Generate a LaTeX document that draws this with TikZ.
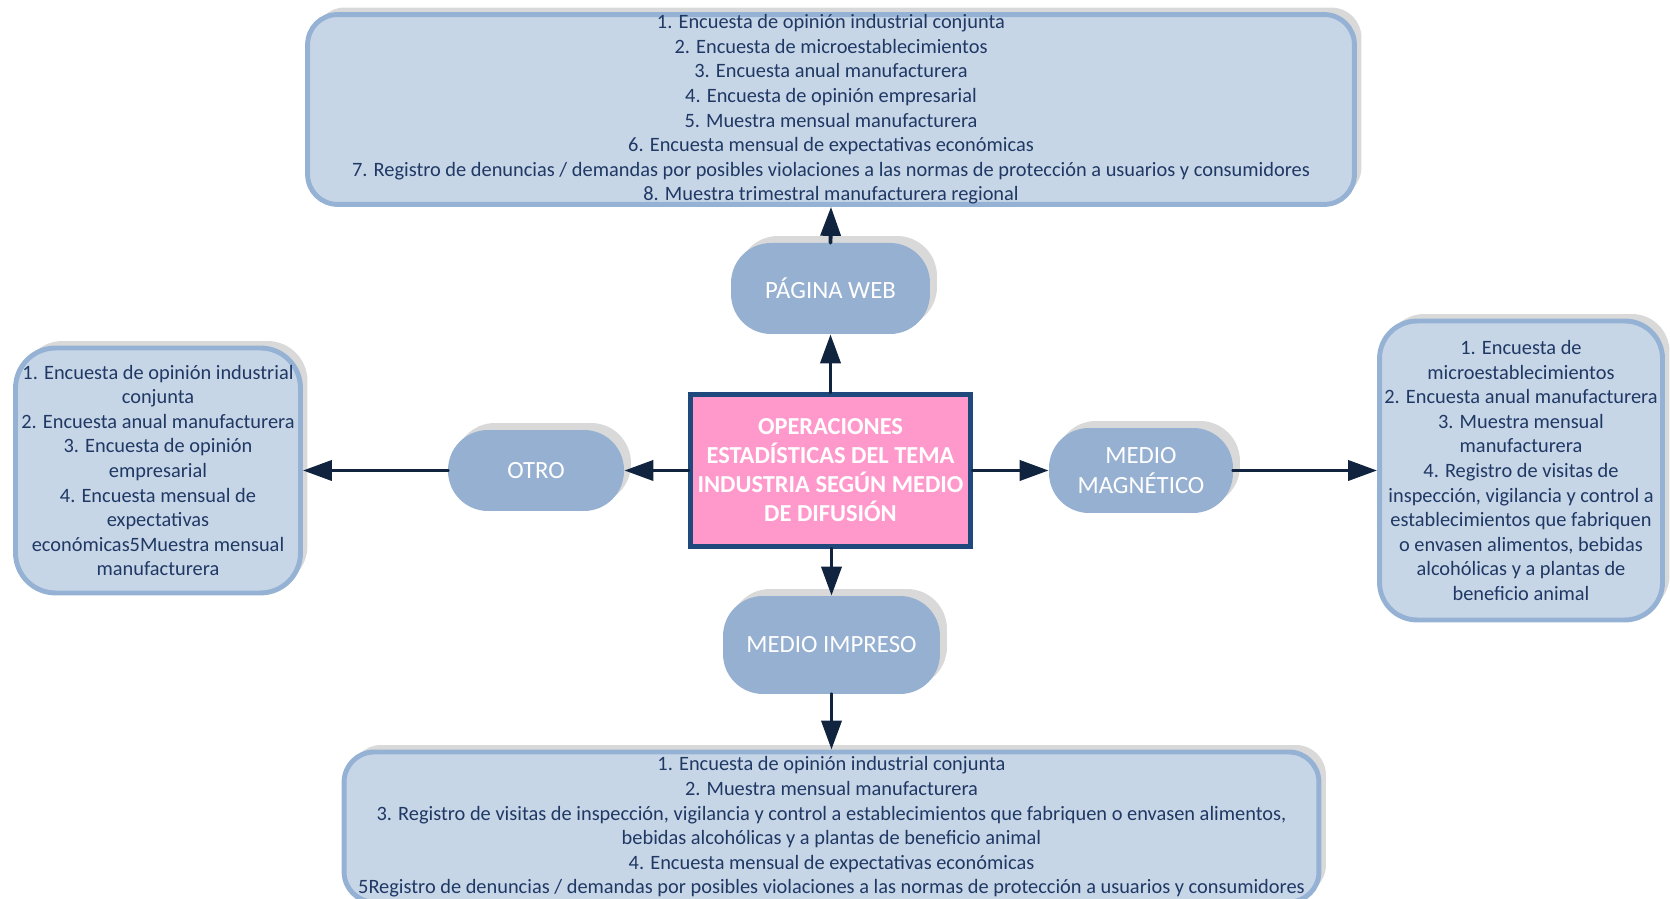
\documentclass[tikz,border=0pt]{standalone}
\usepackage{fontspec}
\setmainfont{Carlito}
\usetikzlibrary{shadows,arrows.meta}
\definecolor{listfondo}{RGB}{199,214,231}
\definecolor{listborde}{RGB}{149,178,213}
\definecolor{mediofondo}{RGB}{150,176,209}
\definecolor{grissombra}{RGB}{217,217,217}
\definecolor{textoazul}{RGB}{31,56,100}
\definecolor{flechaazul}{RGB}{16,36,63}
\definecolor{rosa}{RGB}{255,153,204}
\definecolor{centroborde}{RGB}{31,73,125}
\begin{document}
\begin{tikzpicture} [x=0.02cm,y=0.02cm,
  sombra/.style={drop shadow={shadow xshift=0.14cm, shadow yshift=0.14cm, fill=grissombra, opacity=1}},
  lista/.style={sombra, draw=listborde, line width=2.8pt, fill=listfondo, text=textoazul, align=center, inner sep=0pt, font=\fontsize{11.6}{14}\selectfont},
  medio/.style={sombra, fill=mediofondo, rounded corners=0.8cm, text=white, align=center, inner sep=0pt, font=\fontsize{14.1}{17}\selectfont},
  flecha/.style={-{Triangle[length=0.58cm,width=0.4cm]}, line width=2.2pt, draw=flechaazul, line cap=round}]
    \useasboundingbox (0,0) rectangle (1670,899);
    \clip (0,0) rectangle (1670,899);
    % centro
    \node [draw=centroborde, line width=2.8pt, fill=rosa, text=white, align=center, inner sep=0pt,
           minimum width=5.6cm, minimum height=3.04cm, font=\bfseries\fontsize{13.9}{16.5}\selectfont]
           (centro) at (830.5,428.5) {OPERACIONES\\ESTADÍSTICAS DEL TEMA\\INDUSTRIA SEGÚN MEDIO\\DE DIFUSIÓN};
    % medios
    \node [medio, minimum width=3.98cm, minimum height=1.82cm] (web) at (830.5,610.5) {PÁGINA WEB};
    \node [medio, minimum width=3.52cm, minimum height=1.62cm] (otro) at (536,428.5) {OTRO};
    \node [medio, minimum width=3.68cm, minimum height=1.70cm] (magnetico) at (1141,428.5) {MEDIO\\MAGNÉTICO};
    \node [medio, minimum width=4.34cm, minimum height=1.96cm] (impreso) at (831.5,254) {MEDIO IMPRESO};
    % listas
    \node [lista, rounded corners=0.6cm, minimum width=20.94cm, minimum height=3.72cm] (listaweb) at (831,789.5)
      {1. Encuesta de opinión industrial conjunta\\
       2. Encuesta de microestablecimientos\\
       3. Encuesta anual manufacturera\\
       4. Encuesta de opinión empresarial\\
       5. Muestra mensual manufacturera\\
       6. Encuesta mensual de expectativas económicas\\
       7. Registro de denuncias / demandas por posibles violaciones a las normas de protección a usuarios y consumidores\\
       8. Muestra trimestral manufacturera regional};
    \node [lista, rounded corners=0.8cm, minimum width=5.7cm, minimum height=4.9cm] (listaotro) at (158,428.5)
      {1. Encuesta de opinión industrial\\
       conjunta\\
       2. Encuesta anual manufacturera\\
       3. Encuesta de opinión\\
       empresarial\\
       4. Encuesta mensual de\\
       expectativas\\
       económicas5Muestra mensual\\
       manufacturera};
    \node [lista, rounded corners=0.75cm, minimum width=5.66cm, minimum height=5.98cm] (listamagnetico) at (1521,428.5)
      {1. Encuesta de\\
       microestablecimientos\\
       2. Encuesta anual manufacturera\\
       3. Muestra mensual\\
       manufacturera\\
       4. Registro de visitas de\\
       inspección, vigilancia y control a\\
       establecimientos que fabriquen\\
       o envasen alimentos, bebidas\\
       alcohólicas y a plantas de\\
       beneficio animal};
    \node [lista, rounded corners=0.6cm, minimum width=19.5cm, minimum height=3.0cm] (listaimpreso) at (831.5,72)
      {1. Encuesta de opinión industrial conjunta\\
       2. Muestra mensual manufacturera\\
       3. Registro de visitas de inspección, vigilancia y control a establecimientos que fabriquen o envasen alimentos,\\
       bebidas alcohólicas y a plantas de beneficio animal\\
       4. Encuesta mensual de expectativas económicas\\
       5Registro de denuncias / demandas por posibles violaciones a las normas de protección a usuarios y consumidores};
    % flechas
    \draw [flecha] (centro.north) -- (web.south);
    \draw [flecha] (web.north) -- (listaweb.south);
    \draw [flecha] (centro.west) -- (otro.east);
    \draw [flecha] (otro.west) -- (listaotro.east);
    \draw [flecha] (centro.east) -- (magnetico.west);
    \draw [flecha] (magnetico.east) -- (listamagnetico.west);
    \draw [flecha] (centro.south -| impreso.north) -- (impreso.north);
    \draw [flecha] (impreso.south) -- (listaimpreso.north);
\end{tikzpicture}
\end{document}
